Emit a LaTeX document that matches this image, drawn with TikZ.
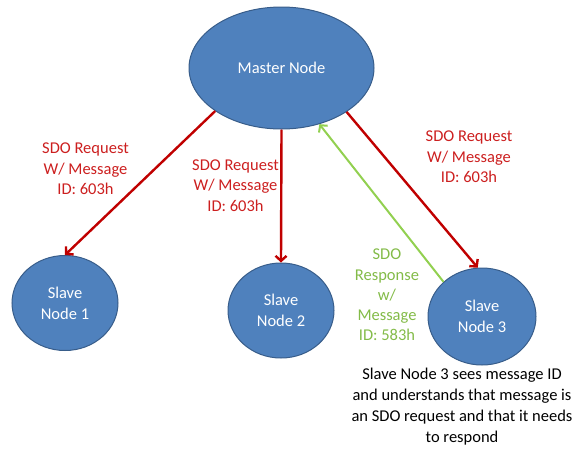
\documentclass[tikz,border=0pt]{standalone}
\usepackage{fontspec}
\setmainfont{Carlito}
\usepackage{tikz}
\usetikzlibrary{arrows.meta,positioning,shapes.geometric}
\usepackage{xcolor}
\definecolor{nodeblue}{HTML}{4F81BD}
\definecolor{nodeedge}{HTML}{385D8A}
\definecolor{reqred}{HTML}{C00000}
\definecolor{reqtext}{HTML}{CC1F1F}
\definecolor{respgreen}{HTML}{92D050}
\tikzset{masterdisk/.style={ellipse,draw=nodeedge,fill=nodeblue,line width=1pt,inner sep=0pt,minimum width=185pt,minimum height=122pt,text=white,font=\fontsize{16.5}{20.5}\selectfont},slavedisk/.style={ellipse,draw=nodeedge,fill=nodeblue,line width=1pt,inner sep=0pt,minimum width=106pt,minimum height=95pt,text=white,align=center,font=\fontsize{16.5}{21}\selectfont},reqline/.style={draw=reqred,line width=2.4pt,->},respline/.style={draw=respgreen,line width=2pt,->},reqlabel/.style={text=reqtext,align=center,inner sep=0pt,font=\fontsize{16.5}{20.5}\selectfont},resplabel/.style={text=respgreen!90!black,align=center,inner sep=0pt,font=\fontsize{16.5}{20.2}\selectfont},notelabel/.style={text=black,align=center,inner sep=0pt,font=\fontsize{16.5}{21}\selectfont}}

\begin{document}
\begin{tikzpicture}[x=1pt,y=-1pt,>={Straight Barb[length=5pt,width=11pt]}]
\useasboundingbox (0,0) rectangle (581,448);
\node[masterdisk] (master) at (281.5,68) {Master Node};
\node[slavedisk] (s1) at (65,303) {Slave\\Node 1};
\node[slavedisk] (s2) at (281,310.5) {Slave\\Node 2};
\node[slavedisk,minimum width=108pt,minimum height=97pt] (s3) at (482,316.5) {Slave\\Node 3};
% requests
\draw[reqline] (master.213.5) -- (s1.north);
\draw[reqline] (master.south) -- (s2.north);
\draw[reqline] (master.326) -- (s3.95);
% response
\draw[respline] (s3.138.5) -- (master.304);
\node[reqlabel] (r1) at (85.5,169) {SDO Request\\W/ Message\\ID: 603h};
\node[reqlabel] (r2) at (235.5,185.5) {SDO Request\\W/ Message\\ID: 603h};
\node[reqlabel] (r3) at (469,157) {SDO Request\\W/ Message\\ID: 603h};
\node[resplabel] (g1) at (387,295) {SDO\\Response\\w/\\Message\\ID: 583h};
\node[notelabel] (note) at (462,406.5) {Slave Node 3 sees message ID\\and understands that message is\\an SDO request and that it needs\\to respond};
\end{tikzpicture}
\end{document}
